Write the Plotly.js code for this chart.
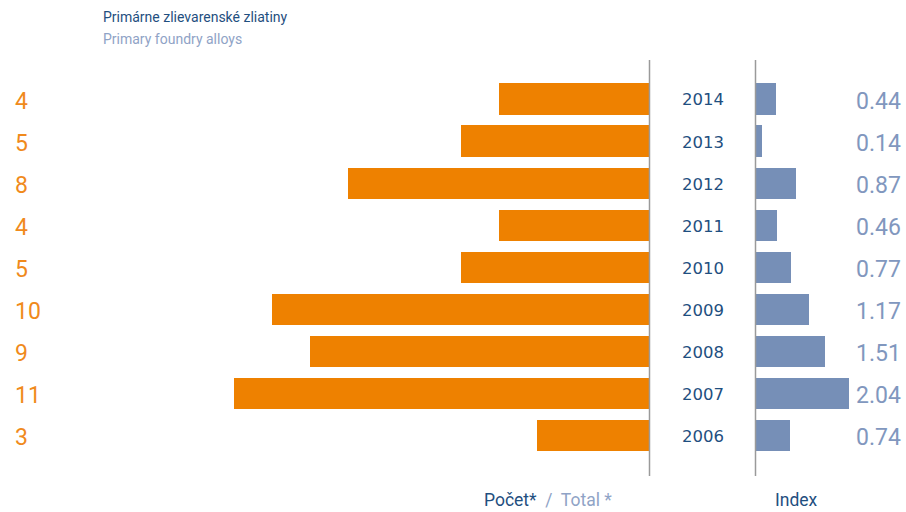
<!DOCTYPE html>
<html><head><meta charset="utf-8">
<script src="https://cdn.plot.ly/plotly-3.0.1.min.js"></script>
<style>html,body{margin:0;padding:0;background:#fff}#c{width:906px;height:512px}</style>
</head><body><div id="c"></div>
<script>
const years = ['2014','2013','2012','2011','2010','2009','2008','2007','2006'];
const totals = [4,5,8,4,5,10,9,11,3];
const indexVals = [0.44,0.14,0.87,0.46,0.77,1.17,1.51,2.04,0.74];
const indexLabels = ['0.44','0.14','0.87','0.46','0.77','1.17','1.51','2.04','0.74'];
const titleSk = 'Primárne zlievarenské zliatiny';
const titleEn = 'Primary foundry alloys';

const W = 906;
const ORANGE = '#ee8100', BLUE = '#768fb7', DARK = '#1f4f80', LIGHT = '#8fa3c6';
const FONT = 'Roboto, sans-serif';
const order = years.slice().reverse();

const traces = [
  {type:'bar', orientation:'h', x: totals, y: years, xaxis:'x', yaxis:'y',
   marker:{color:ORANGE}, width:0.74, hoverinfo:'skip'},
  {type:'bar', orientation:'h', x: indexVals, y: years, xaxis:'x2', yaxis:'y',
   marker:{color:BLUE}, width:0.74, hoverinfo:'skip'}
];

const ann = [];
years.forEach((yr,i)=>{
  const yi = order.indexOf(yr);
  ann.push({xref:'paper', yref:'y', x:13/W, y:yi, yshift:-2.5, text:String(totals[i]), showarrow:false,
    xanchor:'left', yanchor:'middle', font:{family:FONT, size:23, color:'#f08a1c'}});
  ann.push({xref:'paper', yref:'y', x:703/W, y:yi, yshift:-1, text:yr, showarrow:false,
    xanchor:'center', yanchor:'middle', font:{family:'DejaVu Sans, sans-serif', size:16.5, color:DARK}});
  ann.push({xref:'paper', yref:'y', x:854/W, y:yi, yshift:-2.5, text:indexLabels[i], showarrow:false,
    xanchor:'left', yanchor:'middle', font:{family:FONT, size:23, color:'#8197be'}});
});
ann.push({xref:'paper', yref:'paper', x:101/W, y:1+(60-17)/416, text:titleSk, showarrow:false,
  xanchor:'left', yanchor:'middle', font:{family:FONT, size:14, color:DARK}});
ann.push({xref:'paper', yref:'paper', x:101/W, y:1+(60-39)/416, text:titleEn, showarrow:false,
  xanchor:'left', yanchor:'middle', font:{family:FONT, size:14, color:LIGHT}});
ann.push({xref:'paper', yref:'paper', x:482/W, y:-(500-476)/416, showarrow:false,
  text:'<span style="color:'+DARK+'">Počet*</span>  /  Total *', xanchor:'left', yanchor:'middle',
  font:{family:FONT, size:17.5, color:LIGHT}});
ann.push({xref:'paper', yref:'paper', x:796/W, y:-(500-476)/416, text:'Index', showarrow:false,
  xanchor:'center', yanchor:'middle', font:{family:FONT, size:17.5, color:DARK}});

const layout = {
  width:906, height:512, margin:{l:0,r:0,t:60,b:36},
  paper_bgcolor:'#fff', plot_bgcolor:'rgba(0,0,0,0)', showlegend:false,
  xaxis:{domain:[0,650/W], range:[650/37.8,0], visible:false, fixedrange:true},
  xaxis2:{domain:[756/W,1], range:[0,150/45.6], visible:false, fixedrange:true, anchor:'y'},
  yaxis:{type:'category', categoryorder:'array', categoryarray:order, range:[-0.963,8.927], visible:false, fixedrange:true},
  bargap:0,
  annotations: ann,
  shapes:[
    {type:'line', xref:'paper', yref:'paper', x0:649.5/W, x1:649.5/W, y0:0, y1:1, line:{color:'#9a9a9a', width:1.5}},
    {type:'line', xref:'paper', yref:'paper', x0:755.5/W, x1:755.5/W, y0:0, y1:1, line:{color:'#9a9a9a', width:1.5}}
  ]
};
Plotly.newPlot('c', traces, layout, {displayModeBar:false, staticPlot:true});
</script></body></html>
